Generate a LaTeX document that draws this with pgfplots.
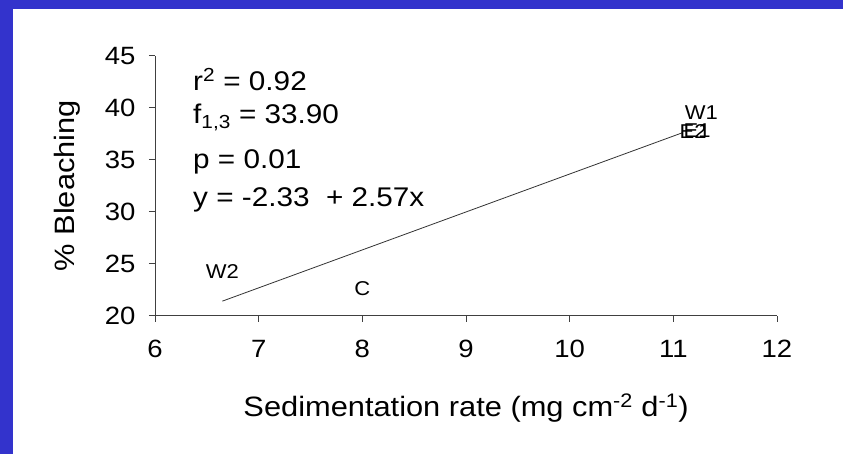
\documentclass[border=0pt]{standalone}
\usepackage{pgfplots}
\pgfplotsset{compat=1.18}
\usepackage{fontspec}
\setmainfont[FakeStretch=1.1]{Liberation Sans}
\definecolor{frameblue}{RGB}{51,51,204}
\begin{document}
\begin{tikzpicture}[x=1pt,y=1pt]
\fill[frameblue] (0,0) rectangle (843,454);
\fill[white] (13,0) rectangle (843,445);
\begin{axis}[
  at={(155pt,138.3pt)}, anchor=south west,
  scale only axis, width=622pt, height=260pt,
  xmin=6, xmax=12, ymin=20, ymax=45,
  axis x line=bottom, axis y line=left,
  axis line style={-, black!75, line width=0.8pt},
  xtick={6,7,8,9,10,11,12}, ytick={20,25,30,35,40,45},
  tick align=outside, major tick length=6pt,
  tick style={black!75, line width=0.8pt},
  /pgf/number format/assume math mode=true,
  ticklabel style={font=\fontsize{25}{29}\selectfont},
  xticklabel style={yshift=-15pt},
  yticklabel style={xshift=-10pt},
  xlabel={Sedimentation rate (mg cm\textsuperscript{-2} d\textsuperscript{-1})},
  xlabel style={at={(axis description cs:0.5,0)}, anchor=center, yshift=-92pt, font=\fontsize{28}{34}\selectfont},
  ylabel={\% Bleaching},
  ylabel style={at={(axis description cs:0,0.5)}, anchor=center, rotate=0, xshift=0pt, yshift=88pt, font=\fontsize{28}{34}\selectfont},
  clip=false,
]
\addplot[black!80, line width=0.8pt] coordinates {(6.65,21.4) (11.09,37.6)};
\addplot[draw=none, mark=none,
  nodes near coords, point meta=explicit symbolic,
  nodes near coords style={anchor=center, text=black, font=\fontsize{20}{24}\selectfont, inner sep=0pt}]
  table[meta=label] {
x y label
6.65 24.2 W2
8.00 22.6 C
11.27 39.5 W1
11.23 37.8 E1
11.19 37.7 E2
};
\end{axis}
\begin{scope}[every node/.style={anchor=base west, inner sep=0pt, font=\fontsize{27}{32}\selectfont}]
\node at (193,363) {r\textsuperscript{2} = 0.92};
\node at (193,330) {f\textsubscript{1,3} = 33.90};
\node at (193,285) {p = 0.01};
\node at (193,247) {y = -2.33\ \ + 2.57x};
\end{scope}
\end{tikzpicture}
\end{document}
